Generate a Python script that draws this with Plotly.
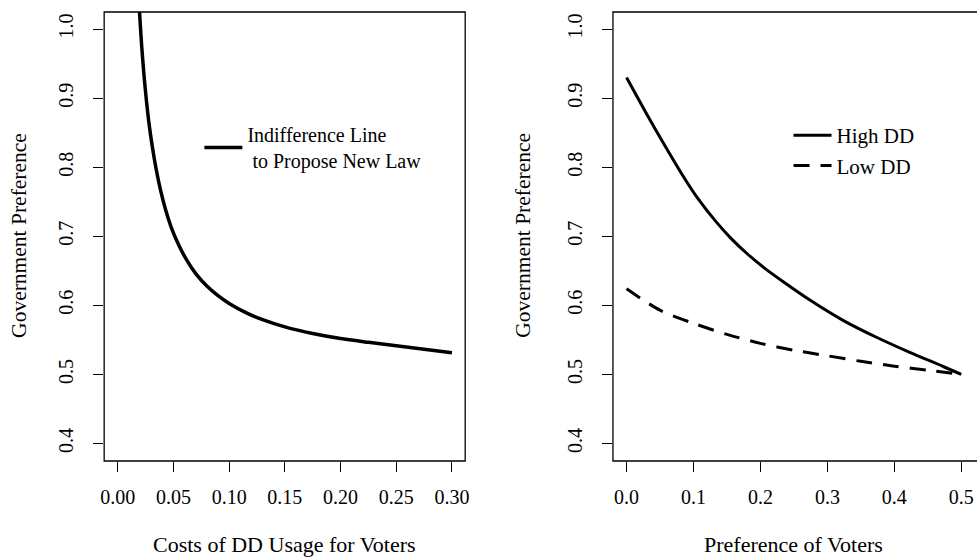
import plotly.graph_objects as go

# ---- data ----
cost_x = [0.0190, 0.0200, 0.0215, 0.0235, 0.0255, 0.0280, 0.0310, 0.0345, 0.0385,
          0.0430, 0.0480, 0.0540, 0.0610, 0.0700, 0.0800, 0.0900, 0.1000, 0.1150,
          0.1300, 0.1500, 0.1750, 0.2000, 0.2250, 0.2500, 0.2750, 0.3000]
indiff_y = [1.040, 1.012, 0.975, 0.934, 0.900, 0.864, 0.830, 0.797, 0.766,
            0.738, 0.713, 0.690, 0.668, 0.646, 0.628, 0.614, 0.6027, 0.5895,
            0.5793, 0.5689, 0.5592, 0.5519, 0.5465, 0.5415, 0.5365, 0.5315]

pref_x = [0.000, 0.033, 0.058, 0.082, 0.107, 0.132, 0.156, 0.181, 0.206,
          0.233, 0.275, 0.324, 0.374, 0.423, 0.473, 0.500]
high_dd = [0.930, 0.872, 0.830, 0.791, 0.754, 0.723, 0.697, 0.674, 0.654,
           0.635, 0.607, 0.578, 0.5535, 0.532, 0.5115, 0.500]
low_x = [0.00, 0.05, 0.10, 0.15, 0.20, 0.25, 0.30, 0.35, 0.40, 0.45, 0.50]
low_dd = [0.624, 0.593, 0.574, 0.558, 0.545, 0.535, 0.527, 0.519, 0.512, 0.506, 0.500]

x1_ticks = [0.00, 0.05, 0.10, 0.15, 0.20, 0.25, 0.30]
x1_labels = ["0.00", "0.05", "0.10", "0.15", "0.20", "0.25", "0.30"]
x2_ticks = [0.0, 0.1, 0.2, 0.3, 0.4, 0.5]
x2_labels = ["0.0", "0.1", "0.2", "0.3", "0.4", "0.5"]
y_ticks = [0.4, 0.5, 0.6, 0.7, 0.8, 0.9, 1.0]
y_labels = ["0.4", "0.5", "0.6", "0.7", "0.8", "0.9", "1.0"]

FONT = "Liberation Serif"
W, H = 977, 557

def px(xp):
    return xp / W

def py(yp):
    return 1 - yp / H

fig = go.Figure()
fig.add_trace(go.Scatter(x=cost_x, y=indiff_y, mode="lines", xaxis="x", yaxis="y",
                         line=dict(color="black", width=3.5, shape="spline", smoothing=0.8),
                         name="Indifference Line<br>\u00a0to Propose New Law", legend="legend"))
fig.add_trace(go.Scatter(x=pref_x, y=high_dd, mode="lines", xaxis="x2", yaxis="y2",
                         line=dict(color="black", width=3, shape="spline", smoothing=0.8),
                         name="High DD", legend="legend2"))
fig.add_trace(go.Scatter(x=low_x, y=low_dd, mode="lines", xaxis="x2", yaxis="y2",
                         line=dict(color="black", width=3, dash="16px,11px",
                                   shape="spline", smoothing=0.8),
                         name="Low DD", legend="legend2"))

tick_common = dict(ticks="outside", ticklen=10, tickwidth=1.3, tickcolor="black",
                   showgrid=False, zeroline=False, showline=False,
                   tickfont=dict(family=FONT, size=20, color="black"))

fig.update_layout(
    width=W, height=H, margin=dict(l=0, r=0, t=0, b=0),
    paper_bgcolor="white", plot_bgcolor="white",
    font=dict(family=FONT, size=20, color="black"),
    xaxis=dict(domain=[px(101), px(465)], range=[-0.0122, 0.3119], anchor="y",
               tickvals=x1_ticks, ticktext=x1_labels, ticklabelstandoff=8, **tick_common),
    yaxis=dict(domain=[py(461), py(12)], range=[0.3747, 1.0247], anchor="x",
               tickvals=y_ticks, ticktext=y_labels, tickangle=-90, ticklabelstandoff=12,
               **tick_common),
    xaxis2=dict(domain=[px(614), 1.0], range=[-0.0203, 0.5175], anchor="y2",
                tickvals=x2_ticks, ticktext=x2_labels, ticklabelstandoff=8,
                ticklabeloverflow="allow", **tick_common),
    yaxis2=dict(domain=[py(461), py(12)], range=[0.3747, 1.0247], anchor="x2",
                tickvals=y_ticks, ticktext=y_labels, tickangle=-90, ticklabelstandoff=12,
                **tick_common),
    legend=dict(x=px(197), y=py(115), xanchor="left", yanchor="top",
                bgcolor="rgba(0,0,0,0)", itemwidth=38,
                font=dict(family=FONT, size=20, color="black")),
    legend2=dict(x=px(791), y=py(115), xanchor="left", yanchor="top",
                 bgcolor="rgba(0,0,0,0)", itemwidth=38, tracegroupgap=0,
                 font=dict(family=FONT, size=21, color="black")),
    showlegend=True,
)

# plot boxes (R-style box())
fig.add_shape(type="rect", xref="x domain", yref="y domain", x0=0, x1=1, y0=0, y1=1,
              line=dict(color="black", width=1.3))
fig.add_shape(type="rect", xref="x2 domain", yref="y2 domain", x0=0, x1=1.05, y0=0, y1=1,
              line=dict(color="black", width=1.3))

# axis titles
ann = dict(showarrow=False, xref="paper", yref="paper", xanchor="center", yanchor="middle")
fig.add_annotation(text="Costs of DD Usage for Voters", x=px(283), y=py(544),
                   font=dict(family=FONT, size=22, color="black"), **ann)
fig.add_annotation(text="Preference of Voters", x=px(796), y=py(544),
                   font=dict(family=FONT, size=22, color="black"), **ann)
fig.add_annotation(text="Government Preference", x=px(15), y=py(235), textangle=-90,
                   font=dict(family=FONT, size=21.5, color="black"), **ann)
fig.add_annotation(text="Government Preference", x=px(523), y=py(235), textangle=-90,
                   font=dict(family=FONT, size=21.5, color="black"), **ann)

fig.write_html("out.html", config={"displayModeBar": False},
               post_script="document.body.style.margin='0';document.body.style.overflow='hidden';")
